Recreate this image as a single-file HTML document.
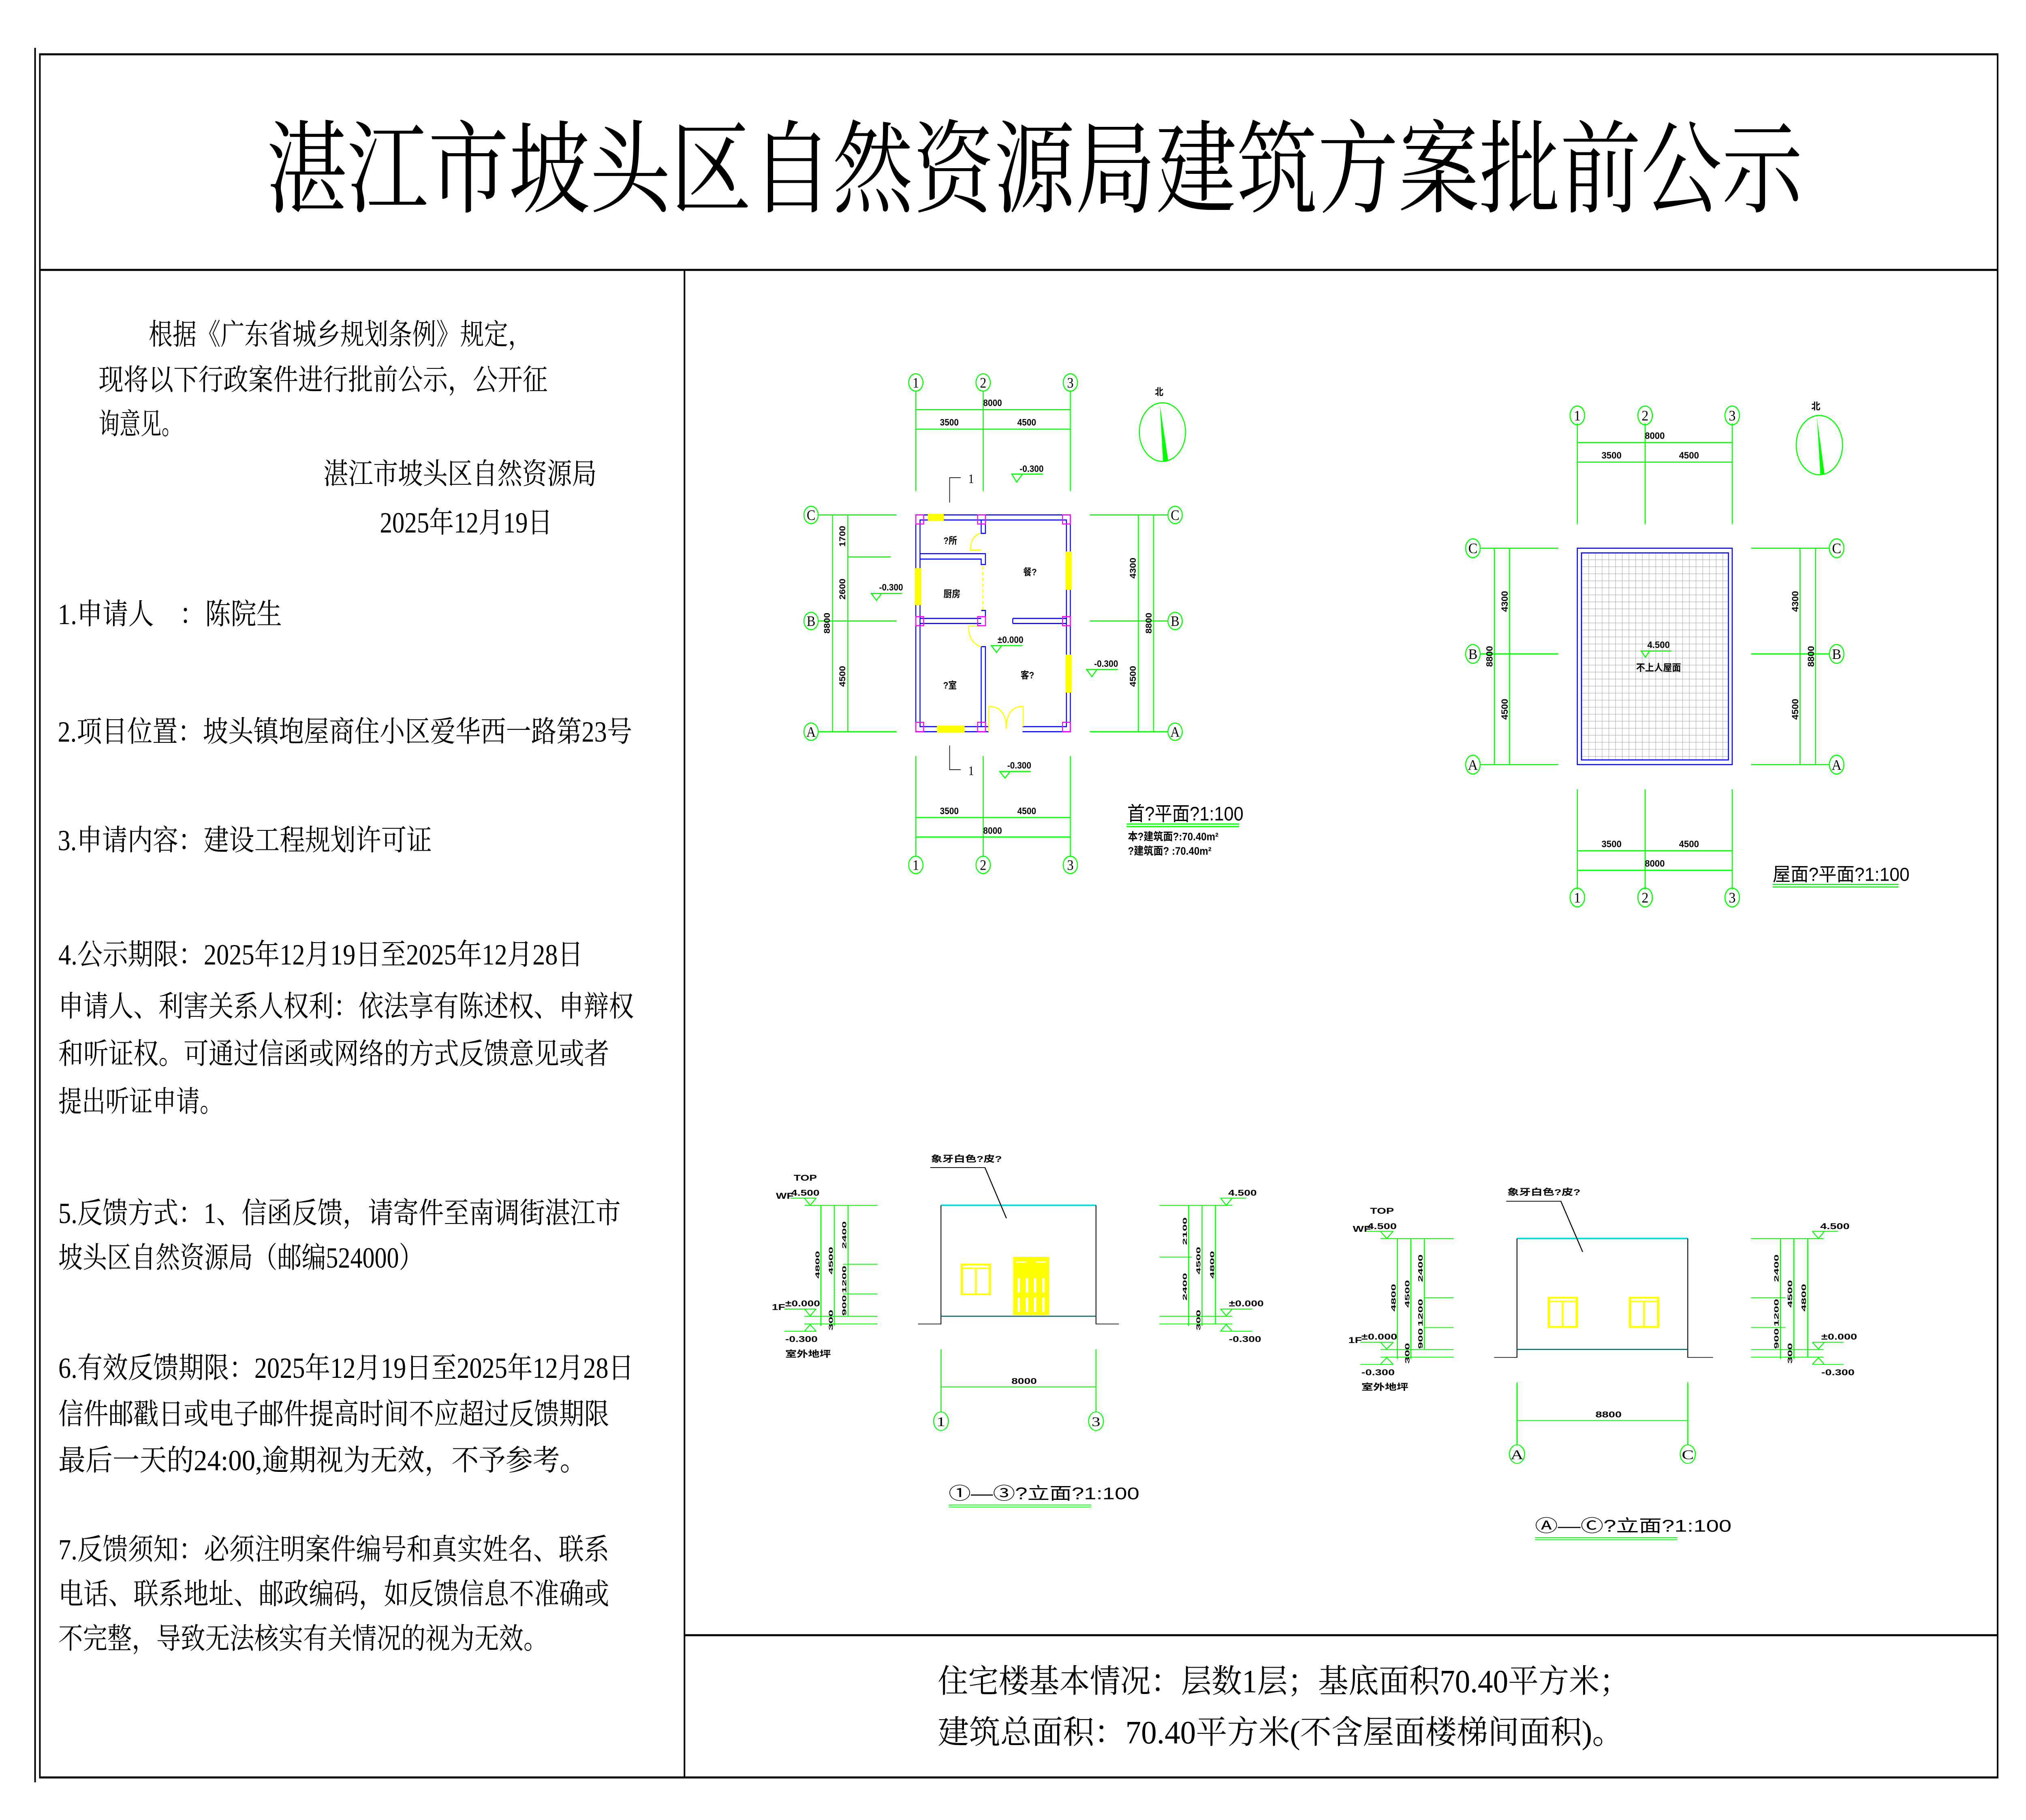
<!DOCTYPE html>
<html><head><meta charset="utf-8"><style>
html,body{margin:0;padding:0;background:#fff;overflow:hidden;width:100%;height:100%;}
svg{display:block;width:100vw;height:100vh;}
.s{font-family:"Liberation Serif","Noto Serif CJK SC",serif;}
.g{font-family:"Liberation Sans","Noto Sans CJK SC",sans-serif;}
</style></head><body>
<svg viewBox="0 0 6352 4491" preserveAspectRatio="none" xmlns="http://www.w3.org/2000/svg">
<rect width="6352" height="4491" fill="#fff"/>
<line x1="110" y1="118" x2="110" y2="4398" stroke="#000" stroke-width="5"/>
<rect x="125" y="134" width="6138" height="4252" fill="none" stroke="#000" stroke-width="5"/>
<line x1="125" y1="666" x2="6263" y2="666" stroke="#000" stroke-width="5"/>
<line x1="2146" y1="666" x2="2146" y2="4386" stroke="#000" stroke-width="5"/>
<line x1="2146" y1="4035" x2="6263" y2="4035" stroke="#000" stroke-width="5"/>
<text class="s" x="835" y="505" font-size="250" textLength="4817" lengthAdjust="spacingAndGlyphs">湛江市坡头区自然资源局建筑方案批前公示</text>
<g class="s" font-size="72" fill="#000">
<text x="466" y="850" textLength="1202" lengthAdjust="spacingAndGlyphs">根据《广东省城乡规划条例》规定，</text>
<text x="309" y="962" textLength="1408" lengthAdjust="spacingAndGlyphs">现将以下行政案件进行批前公示，公开征</text>
<text x="309" y="1071" textLength="263" lengthAdjust="spacingAndGlyphs">询意见。</text>
<text x="1014" y="1194" textLength="857" lengthAdjust="spacingAndGlyphs">湛江市坡头区自然资源局</text>
<text x="1191" y="1314" textLength="541" lengthAdjust="spacingAndGlyphs">2025年12月19日</text>
<text x="181" y="1540" textLength="703" lengthAdjust="spacingAndGlyphs">1.申请人　：陈院生</text>
<text x="181" y="1830" textLength="1801" lengthAdjust="spacingAndGlyphs">2.项目位置：坡头镇垉屋商住小区爱华西一路第23号</text>
<text x="181" y="2098" textLength="1173" lengthAdjust="spacingAndGlyphs">3.申请内容：建设工程规划许可证</text>
<text x="183" y="2380" textLength="1645" lengthAdjust="spacingAndGlyphs">4.公示期限：2025年12月19日至2025年12月28日</text>
<text x="183" y="2508" textLength="1804" lengthAdjust="spacingAndGlyphs">申请人、利害关系人权利：依法享有陈述权、申辩权</text>
<text x="183" y="2625" textLength="1727" lengthAdjust="spacingAndGlyphs">和听证权。可通过信函或网络的方式反馈意见或者</text>
<text x="183" y="2743" textLength="517" lengthAdjust="spacingAndGlyphs">提出听证申请。</text>
<text x="183" y="3018" textLength="1763" lengthAdjust="spacingAndGlyphs">5.反馈方式：1、信函反馈，请寄件至南调街湛江市</text>
<text x="183" y="3128" textLength="1144" lengthAdjust="spacingAndGlyphs">坡头区自然资源局（邮编524000）</text>
<text x="183" y="3400" textLength="1804" lengthAdjust="spacingAndGlyphs">6.有效反馈期限：2025年12月19日至2025年12月28日</text>
<text x="183" y="3514" textLength="1727" lengthAdjust="spacingAndGlyphs">信件邮戳日或电子邮件提高时间不应超过反馈期限</text>
<text x="183" y="3628" textLength="1657" lengthAdjust="spacingAndGlyphs">最后一天的24:00,逾期视为无效，不予参考。</text>
<text x="183" y="3848" textLength="1727" lengthAdjust="spacingAndGlyphs">7.反馈须知：必须注明案件编号和真实姓名、联系</text>
<text x="183" y="3958" textLength="1727" lengthAdjust="spacingAndGlyphs">电话、联系地址、邮政编码，如反馈信息不准确或</text>
<text x="183" y="4068" textLength="1535" lengthAdjust="spacingAndGlyphs">不完整，导致无法核实有关情况的视为无效。</text>
</g>
<g class="s" font-size="80" fill="#000">
<text x="2940" y="4176" textLength="2170" lengthAdjust="spacingAndGlyphs">住宅楼基本情况：层数1层；基底面积70.40平方米；</text>
<text x="2940" y="4302" textLength="2150" lengthAdjust="spacingAndGlyphs">建筑总面积：70.40平方米(不含屋面楼梯间面积)。</text>
</g>

<g transform="translate(2400,850) scale(1.02,0.893)">
<g stroke="#00ff00" stroke-width="3" fill="none">
 <line x1="462" y1="127" x2="462" y2="405"/><line x1="669" y1="127" x2="669" y2="405"/><line x1="937" y1="127" x2="937" y2="405"/>
 <line x1="462" y1="180" x2="937" y2="180"/><line x1="462" y1="234" x2="937" y2="234"/>
 <line x1="462" y1="1137" x2="462" y2="1416"/><line x1="669" y1="1137" x2="669" y2="1416"/><line x1="937" y1="1137" x2="937" y2="1416"/>
 <line x1="462" y1="1307" x2="937" y2="1307"/><line x1="462" y1="1361" x2="937" y2="1361"/>
 <line x1="162" y1="471" x2="403" y2="471"/><line x1="162" y1="764" x2="403" y2="764"/><line x1="162" y1="1070" x2="403" y2="1070"/>
 <line x1="253" y1="587" x2="385" y2="587"/>
 <line x1="206" y1="471" x2="206" y2="1070"/><line x1="253" y1="471" x2="253" y2="1070"/>
 <line x1="997" y1="471" x2="1237" y2="471"/><line x1="997" y1="764" x2="1237" y2="764"/><line x1="997" y1="1070" x2="1237" y2="1070"/>
 <line x1="1146" y1="471" x2="1146" y2="1070"/><line x1="1193" y1="471" x2="1193" y2="1070"/>
 <ellipse cx="462" cy="105" rx="22" ry="24"/><ellipse cx="669" cy="105" rx="22" ry="24"/><ellipse cx="937" cy="105" rx="22" ry="24"/>
 <ellipse cx="462" cy="1438" rx="22" ry="24"/><ellipse cx="669" cy="1438" rx="22" ry="24"/><ellipse cx="937" cy="1438" rx="22" ry="24"/>
 <ellipse cx="140" cy="471" rx="22" ry="24"/><ellipse cx="140" cy="764" rx="22" ry="24"/><ellipse cx="140" cy="1070" rx="22" ry="24"/>
 <ellipse cx="1259" cy="471" rx="22" ry="24"/><ellipse cx="1259" cy="764" rx="22" ry="24"/><ellipse cx="1259" cy="1070" rx="22" ry="24"/>
 <ellipse cx="1220" cy="242" rx="71" ry="81"/>
 <path d="M755 358 H853 M757 358 L772 380 L790 358"/>
 <path d="M323 688 H420 M325 688 L341 707 L357 688"/>
 <path d="M692 832 H790 M694 832 L710 851 L726 832"/>
 <path d="M985 898 H1083 M987 898 L1003 918 L1019 898"/>
 <path d="M718 1180 H815 M720 1180 L736 1198 L752 1180"/>
 <line x1="1110" y1="1325" x2="1456" y2="1325"/><line x1="1110" y1="1332" x2="1456" y2="1332"/>
</g>
<path d="M1212 166 L1238 322 L1222 324 Z" fill="#00ff00"/>
<g class="s" font-size="40" text-anchor="middle" fill="#000">
 <text x="462" y="119">1</text><text x="669" y="119">2</text><text x="937" y="119">3</text>
 <text x="462" y="1452">1</text><text x="669" y="1452">2</text><text x="937" y="1452">3</text>
 <text x="140" y="485">C</text><text x="140" y="778">B</text><text x="140" y="1084">A</text>
 <text x="1259" y="485">C</text><text x="1259" y="778">B</text><text x="1259" y="1084">A</text>
</g>
<g class="g" font-size="26" font-weight="bold" fill="#000" text-anchor="middle">
 <text x="698" y="170">8000</text><text x="565" y="224">3500</text><text x="803" y="224">4500</text>
 <text x="565" y="1298">3500</text><text x="803" y="1298">4500</text><text x="698" y="1352">8000</text>
 <text transform="translate(245,530) rotate(-90)">1700</text>
 <text transform="translate(245,676) rotate(-90)">2600</text>
 <text transform="translate(245,917) rotate(-90)">4500</text>
 <text transform="translate(198,770) rotate(-90)">8800</text>
 <text transform="translate(1138,618) rotate(-90)">4300</text>
 <text transform="translate(1138,917) rotate(-90)">4500</text>
 <text transform="translate(1187,770) rotate(-90)">8800</text>
 <text x="818" y="352">-0.300</text><text x="386" y="680">-0.300</text><text x="753" y="825">±0.000</text>
 <text x="1047" y="891">-0.300</text><text x="780" y="1172">-0.300</text>
 <text x="1210" y="140">北</text>
 <text x="568" y="551">?所</text><text x="813" y="638">餐?</text><text x="573" y="698">厨房</text>
 <text x="805" y="923">客?</text><text x="567" y="951">?室</text>
</g>
<g stroke="#000" stroke-width="2" fill="none"><path d="M600 368 H566 V437"/><path d="M566 1108 V1175 H600"/></g>
<g class="s" font-size="36" fill="#000"><text x="623" y="383">1</text><text x="623" y="1190">1</text></g>
<g stroke="#0000ff" stroke-width="3" fill="none">
 <rect x="462" y="471" width="475" height="599"/>
 <rect x="475" y="485" width="450" height="571"/>
 <path d="M663 485 V522 H676 V485"/>
 <path d="M475 578 H676 V608 H663 V593 H475"/>
 <path d="M663 735 H676 V757"/>
 <path d="M475 757 H663 M475 771 H663"/>
 <path d="M760 757 H925 M760 771 H925 M760 757 V771"/>
 <path d="M663 835 H676 V1056 M663 835 V1056"/>
</g>
<rect x="686" y="1052" width="104" height="22" fill="#fff"/>
<rect x="499" y="468" width="49" height="20" fill="#ffff00"/>
<rect x="459" y="618" width="19" height="102" fill="#ffff00"/>
<rect x="922" y="572" width="19" height="106" fill="#ffff00"/>
<rect x="922" y="857" width="19" height="105" fill="#ffff00"/>
<rect x="527" y="1053" width="85" height="20" fill="#ffff00"/>
<g stroke="#ffff00" stroke-width="3" fill="none">
 <path d="M630 568 Q630 530 660 522 M628 568 H663"/>
 <path d="M668 612 V733" stroke-dasharray="10 6"/>
 <path d="M624 778 Q624 825 663 835 M624 778 H663"/>
 <path d="M686 1000 V1070 M686 1000 Q740 1000 740 1062 M792 1000 V1056 M792 1000 Q740 1000 740 1062"/>
</g>
<g fill="none" stroke="#ff00ff" stroke-width="3">
 <rect x="462" y="471" width="24" height="25"/><rect x="652" y="471" width="24" height="25"/><rect x="913" y="471" width="24" height="25"/>
 <rect x="462" y="752" width="24" height="25"/><rect x="652" y="752" width="24" height="25"/><rect x="913" y="752" width="24" height="25"/>
 <rect x="462" y="1044" width="24" height="26"/><rect x="652" y="1044" width="24" height="26"/><rect x="913" y="1044" width="24" height="26"/>
</g>
<g class="g" fill="#000">
 <text x="1112" y="1315" font-size="54">首?平面?1:100</text>
 <text x="1114" y="1370" font-size="30" font-weight="bold">本?建筑面?:70.40m²</text>
 <text x="1114" y="1410" font-size="30" font-weight="bold">?建筑面? :70.40m²</text>
</g>
</g>

<g transform="translate(4400,900) scale(1.084,0.893)">
<g stroke="#00ff00" stroke-width="3" fill="none">
 <line x1="503" y1="162" x2="503" y2="440"/><line x1="699" y1="162" x2="699" y2="440"/><line x1="951" y1="162" x2="951" y2="440"/>
 <line x1="503" y1="215" x2="951" y2="215"/><line x1="503" y1="269" x2="951" y2="269"/>
 <line x1="503" y1="1173" x2="503" y2="1450"/><line x1="699" y1="1173" x2="699" y2="1450"/><line x1="951" y1="1173" x2="951" y2="1450"/>
 <line x1="503" y1="1343" x2="951" y2="1343"/><line x1="503" y1="1397" x2="951" y2="1397"/>
 <line x1="223" y1="507" x2="448" y2="507"/><line x1="223" y1="799" x2="448" y2="799"/><line x1="223" y1="1105" x2="448" y2="1105"/>
 <line x1="263" y1="507" x2="263" y2="1105"/><line x1="307" y1="507" x2="307" y2="1105"/>
 <line x1="1006" y1="507" x2="1231" y2="507"/><line x1="1006" y1="799" x2="1231" y2="799"/><line x1="1006" y1="1105" x2="1231" y2="1105"/>
 <line x1="1147" y1="507" x2="1147" y2="1105"/><line x1="1192" y1="507" x2="1192" y2="1105"/>
 <ellipse cx="503" cy="140" rx="21" ry="26"/><ellipse cx="699" cy="140" rx="21" ry="26"/><ellipse cx="951" cy="140" rx="21" ry="26"/>
 <ellipse cx="503" cy="1472" rx="21" ry="26"/><ellipse cx="699" cy="1472" rx="21" ry="26"/><ellipse cx="951" cy="1472" rx="21" ry="26"/>
 <ellipse cx="201" cy="507" rx="21" ry="26"/><ellipse cx="201" cy="799" rx="21" ry="26"/><ellipse cx="201" cy="1105" rx="21" ry="26"/>
 <ellipse cx="1253" cy="507" rx="21" ry="26"/><ellipse cx="1253" cy="799" rx="21" ry="26"/><ellipse cx="1253" cy="1105" rx="21" ry="26"/>
 <ellipse cx="1203" cy="222" rx="67" ry="82"/>
 <line x1="1068" y1="1436" x2="1432" y2="1436"/><line x1="1068" y1="1443" x2="1432" y2="1443"/>
</g>
<path d="M1196 146 L1218 302 L1206 304 Z" fill="#00ff00"/>
<defs><pattern id="tile" width="19.4" height="19.4" patternUnits="userSpaceOnUse" x="516" y="520">
<path d="M0 0 V19.4 H19.4" fill="none" stroke="#999" stroke-width="2"/></pattern></defs>
<rect x="516" y="520" width="424" height="572" fill="url(#tile)"/>
<rect x="503" y="507" width="448" height="598" fill="none" stroke="#0000ff" stroke-width="3"/>
<rect x="515" y="520" width="425" height="572" fill="none" stroke="#0000ff" stroke-width="3"/>
<path d="M686 791 H775 M688 791 L700 808 L712 791" stroke="#00ff00" stroke-width="3" fill="none"/>
<g class="s" font-size="40" text-anchor="middle" fill="#000">
 <text x="503" y="154">1</text><text x="699" y="154">2</text><text x="951" y="154">3</text>
 <text x="503" y="1486">1</text><text x="699" y="1486">2</text><text x="951" y="1486">3</text>
 <text x="201" y="521">C</text><text x="201" y="813">B</text><text x="201" y="1119">A</text>
 <text x="1253" y="521">C</text><text x="1253" y="813">B</text><text x="1253" y="1119">A</text>
</g>
<g class="g" font-size="26" font-weight="bold" fill="#000" text-anchor="middle">
 <text x="727" y="205">8000</text><text x="602" y="259">3500</text><text x="826" y="259">4500</text>
 <text x="602" y="1333">3500</text><text x="826" y="1333">4500</text><text x="727" y="1387">8000</text>
 <text transform="translate(302,654) rotate(-90)">4300</text>
 <text transform="translate(302,952) rotate(-90)">4500</text>
 <text transform="translate(258,806) rotate(-90)">8800</text>
 <text transform="translate(1142,654) rotate(-90)">4300</text>
 <text transform="translate(1142,952) rotate(-90)">4500</text>
 <text transform="translate(1188,806) rotate(-90)">8800</text>
 <text x="738" y="783">4.500</text><text x="738" y="846">不上人屋面</text>
 <text x="1193" y="124">北</text>
</g>
<text class="g" x="1068" y="1426" font-size="52" fill="#000">屋面?平面?1:100</text>
</g>

<g transform="translate(2380,2800) scale(1.052,0.638)">
<g stroke="#00ff00" stroke-width="3" fill="none">
 <line x1="135" y1="273" x2="353" y2="273"/><line x1="250" y1="501" x2="353" y2="501"/><line x1="250" y1="616" x2="353" y2="616"/>
 <line x1="135" y1="702" x2="353" y2="702"/><line x1="135" y1="732" x2="353" y2="732"/>
 <line x1="184" y1="273" x2="184" y2="740"/><line x1="224" y1="273" x2="224" y2="740"/><line x1="265" y1="273" x2="265" y2="702"/>
 <path d="M93 245 H170 M135 245 L152 273 L170 245"/>
 <path d="M75 674 H170 M135 674 L152 700 L170 674"/>
 <path d="M75 760 H170 M135 760 L152 734 L170 760"/>
 <line x1="1193" y1="273" x2="1410" y2="273"/><line x1="1193" y1="473" x2="1290" y2="473"/>
 <line x1="1193" y1="702" x2="1410" y2="702"/><line x1="1193" y1="732" x2="1410" y2="732"/>
 <line x1="1280" y1="273" x2="1280" y2="740"/><line x1="1320" y1="273" x2="1320" y2="740"/><line x1="1360" y1="273" x2="1360" y2="732"/>
 <path d="M1375 245 H1452 M1375 245 L1392 273 L1410 245"/>
 <path d="M1375 674 H1470 M1375 674 L1392 700 L1410 674"/>
 <path d="M1375 760 H1470 M1375 760 L1392 734 L1410 760"/>
 <line x1="542" y1="830" x2="542" y2="1072"/><line x1="1004" y1="830" x2="1004" y2="1072"/>
 <line x1="542" y1="975" x2="1004" y2="975"/>
 <ellipse cx="542" cy="1108" rx="22" ry="36"/><ellipse cx="1004" cy="1108" rx="22" ry="36"/>
 <line x1="565" y1="1432" x2="990" y2="1432"/><line x1="565" y1="1440" x2="990" y2="1440"/>
</g>
<line x1="542" y1="273" x2="1004" y2="273" stroke="#00e0e0" stroke-width="6"/>
<path d="M474 732 H542 V273 M1004 273 V732 H1072" stroke="#000" stroke-width="2.5" fill="none"/>
<line x1="542" y1="702" x2="1004" y2="702" stroke="#006060" stroke-width="4"/>
<rect x="604" y="502" width="84" height="115" fill="none" stroke="#ffff00" stroke-width="7"/>
<path d="M608 516 H684 M646 520 V614" stroke="#ffff00" stroke-width="5"/>
<rect x="757" y="472" width="107" height="225" fill="#ffff00"/>
<g fill="#fff"><rect x="766" y="490" width="30" height="5"/><rect x="825" y="490" width="30" height="5"/>
<rect x="770" y="555" width="7" height="55"/><rect x="795" y="555" width="7" height="55"/><rect x="819" y="555" width="7" height="55"/><rect x="844" y="555" width="7" height="55"/>
<rect x="770" y="630" width="7" height="55"/><rect x="795" y="630" width="7" height="55"/><rect x="819" y="630" width="7" height="55"/><rect x="844" y="630" width="7" height="55"/></g>
<path d="M510 127 H673 L737 323" stroke="#000" stroke-width="3" fill="none"/>
<g class="g" font-size="34" font-weight="bold" fill="#000">
 <text x="512" y="105">象牙白色?皮?</text>
 <text x="103" y="178">TOP</text><text x="50" y="248">WF</text><text x="95" y="236">4.500</text>
 <text x="38" y="678">1F</text><text x="78" y="664">±0.000</text><text x="78" y="802">-0.300</text><text x="78" y="860">室外地坪</text>
 <text x="1398" y="236">4.500</text><text x="1400" y="664">±0.000</text><text x="1400" y="802">-0.300</text>
 <text x="752" y="964">8000</text>
</g>
<g class="g" font-size="30" font-weight="bold" fill="#000" text-anchor="middle">
 <text transform="translate(180,503) rotate(-90) scale(1.6,0.6)">4800</text>
 <text transform="translate(220,487) rotate(-90) scale(1.6,0.6)">4500</text>
 <text transform="translate(260,388) rotate(-90) scale(1.6,0.6)">2400</text>
 <text transform="translate(260,560) rotate(-90) scale(1.6,0.6)">1200</text>
 <text transform="translate(260,660) rotate(-90) scale(1.6,0.6)">900</text>
 <text transform="translate(220,717) rotate(-90) scale(1.6,0.6)">300</text>
 <text transform="translate(1275,373) rotate(-90) scale(1.6,0.6)">2100</text>
 <text transform="translate(1275,588) rotate(-90) scale(1.6,0.6)">2400</text>
 <text transform="translate(1315,487) rotate(-90) scale(1.6,0.6)">4500</text>
 <text transform="translate(1356,503) rotate(-90) scale(1.6,0.6)">4800</text>
 <text transform="translate(1315,717) rotate(-90) scale(1.6,0.6)">300</text>
</g>
<g class="s" font-size="52" text-anchor="middle" fill="#000"><text x="542" y="1127">1</text><text x="1004" y="1127">3</text></g>
<text class="g" x="565" y="1410" font-size="66" fill="#000">①—③?立面?1:100</text>
</g>

<g transform="translate(4200,2880) scale(1.084,0.638)">
<g stroke="#00ff00" stroke-width="3" fill="none">
 <line x1="118" y1="276" x2="330" y2="276"/><line x1="245" y1="505" x2="330" y2="505"/><line x1="245" y1="620" x2="330" y2="620"/>
 <line x1="118" y1="705" x2="330" y2="705"/><line x1="118" y1="735" x2="330" y2="735"/>
 <line x1="167" y1="276" x2="167" y2="742"/><line x1="206" y1="276" x2="206" y2="742"/><line x1="245" y1="276" x2="245" y2="705"/>
 <path d="M78 248 H155 M118 248 L136 276 L155 248"/>
 <path d="M60 677 H155 M118 677 L136 703 L155 677"/>
 <path d="M60 763 H155 M118 763 L136 737 L155 763"/>
 <line x1="1190" y1="276" x2="1400" y2="276"/><line x1="1190" y1="505" x2="1290" y2="505"/><line x1="1190" y1="620" x2="1290" y2="620"/>
 <line x1="1190" y1="705" x2="1400" y2="705"/><line x1="1190" y1="735" x2="1400" y2="735"/>
 <line x1="1275" y1="276" x2="1275" y2="742"/><line x1="1314" y1="276" x2="1314" y2="742"/><line x1="1354" y1="276" x2="1354" y2="735"/>
 <path d="M1367 248 H1442 M1367 248 L1385 276 L1402 248"/>
 <path d="M1367 677 H1458 M1367 677 L1385 703 L1402 677"/>
 <path d="M1367 763 H1458 M1367 763 L1385 737 L1402 763"/>
 <line x1="513" y1="833" x2="513" y2="1074"/><line x1="1007" y1="833" x2="1007" y2="1074"/>
 <line x1="513" y1="980" x2="1007" y2="980"/>
 <ellipse cx="513" cy="1110" rx="22" ry="36"/><ellipse cx="1007" cy="1110" rx="22" ry="36"/>
 <line x1="565" y1="1433" x2="977" y2="1433"/><line x1="565" y1="1441" x2="977" y2="1441"/>
</g>
<line x1="513" y1="276" x2="1007" y2="276" stroke="#00e0e0" stroke-width="6"/>
<path d="M447 736 H513 V276 M1007 276 V736 H1080" stroke="#000" stroke-width="2.5" fill="none"/>
<line x1="513" y1="705" x2="1007" y2="705" stroke="#006060" stroke-width="4"/>
<rect x="605" y="505" width="81" height="113" fill="none" stroke="#ffff00" stroke-width="7"/>
<path d="M608 519 H683 M645 523 V615" stroke="#ffff00" stroke-width="5"/>
<rect x="840" y="505" width="81" height="113" fill="none" stroke="#ffff00" stroke-width="7"/>
<path d="M843 519 H918 M880 523 V615" stroke="#ffff00" stroke-width="5"/>
<path d="M482 132 H640 L703 328" stroke="#000" stroke-width="3" fill="none"/>
<g class="g" font-size="34" font-weight="bold" fill="#000">
 <text x="485" y="108">象牙白色?皮?</text>
 <text x="88" y="180">TOP</text><text x="38" y="250">WF</text><text x="80" y="240">4.500</text>
 <text x="25" y="680">1F</text><text x="63" y="667">±0.000</text><text x="63" y="805">-0.300</text><text x="63" y="862">室外地坪</text>
 <text x="1390" y="240">4.500</text><text x="1393" y="667">±0.000</text><text x="1393" y="805">-0.300</text>
 <text x="740" y="968">8800</text>
</g>
<g class="g" font-size="30" font-weight="bold" fill="#000" text-anchor="middle">
 <text transform="translate(162,505) rotate(-90) scale(1.6,0.6)">4800</text>
 <text transform="translate(202,490) rotate(-90) scale(1.6,0.6)">4500</text>
 <text transform="translate(240,391) rotate(-90) scale(1.6,0.6)">2400</text>
 <text transform="translate(240,563) rotate(-90) scale(1.6,0.6)">1200</text>
 <text transform="translate(240,663) rotate(-90) scale(1.6,0.6)">900</text>
 <text transform="translate(202,720) rotate(-90) scale(1.6,0.6)">300</text>
 <text transform="translate(1270,391) rotate(-90) scale(1.6,0.6)">2400</text>
 <text transform="translate(1270,563) rotate(-90) scale(1.6,0.6)">1200</text>
 <text transform="translate(1270,663) rotate(-90) scale(1.6,0.6)">900</text>
 <text transform="translate(1309,490) rotate(-90) scale(1.6,0.6)">4500</text>
 <text transform="translate(1349,505) rotate(-90) scale(1.6,0.6)">4800</text>
 <text transform="translate(1309,720) rotate(-90) scale(1.6,0.6)">300</text>
</g>
<g class="s" font-size="52" text-anchor="middle" fill="#000"><text x="513" y="1129">A</text><text x="1007" y="1129">C</text></g>
<text class="g" x="565" y="1410" font-size="66" fill="#000">Ⓐ—Ⓒ?立面?1:100</text>
</g>
</svg>
</body></html>
